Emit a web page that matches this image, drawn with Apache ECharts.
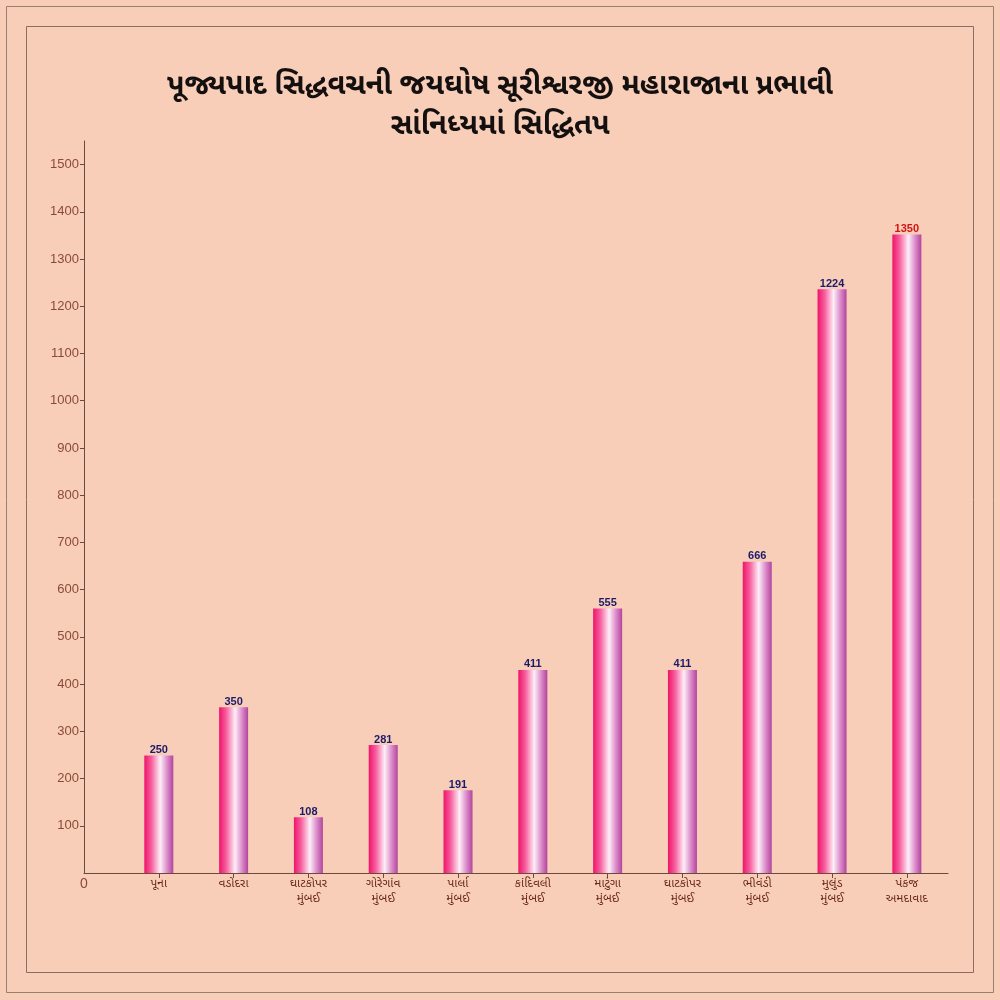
<!DOCTYPE html>
<html>
<head>
<meta charset="utf-8">
<script src="https://cdn.jsdelivr.net/npm/echarts@6/dist/echarts.min.js"></script>
<style>
html,body{margin:0;padding:0;background:#f8ceb9;}
#chart{width:1000px;height:1000px;}
</style>
</head>
<body>
<div id="chart"></div>
<script>
// ---- data ----
const titleLines = ['પૂજ્યપાદ સિદ્ધવચની જયઘોષ સૂરીશ્વરજી મહારાજાના પ્રભાવી', 'સાંનિધ્યમાં સિદ્ધિતપ'];
const categories = ['પૂના', 'વડોદરા', 'ઘાટકોપર\nમુંબઈ', 'ગોરેગાંવ\nમુંબઈ', 'પાર્લા\nમુંબઈ', 'કાંદિવલી\nમુંબઈ', 'માટુંગા\nમુંબઈ', 'ઘાટકોપર\nમુંબઈ', 'ભીવંડી\nમુંબઈ', 'મુલુંડ\nમુંબઈ', 'પંકજ\nઅમદાવાદ'];
const labelValues = [250, 350, 108, 281, 191, 411, 555, 411, 666, 1224, 1350];      // printed numbers
const barHeights  = [249, 351, 118, 271, 175, 430, 560, 430, 659, 1236, 1352];      // drawn bar heights
const yTicks = [100, 200, 300, 400, 500, 600, 700, 800, 900, 1000, 1100, 1200, 1300, 1400, 1500];
const zeroLabel = '0';

const gujFont = "'Noto Sans Gujarati', 'Noto Sans', 'DejaVu Sans', sans-serif";
const catIdx = categories.map((c, i) => i);
const maxLabel = Math.max(...labelValues);

const chart = echarts.init(document.getElementById('chart'), null, {renderer: 'canvas'});
chart.setOption({
  backgroundColor: '#f8ceb9',
  animation: false,
  title: {
    text: titleLines.join('\n'),
    left: 'center',
    top: 64,
    textStyle: {fontFamily: gujFont, fontSize: 29, fontWeight: 'bold', color: '#141010', lineHeight: 40}
  },
  graphic: [
    {type: 'rect', shape: {x: 6.5, y: 6.5, width: 987, height: 986}, style: {fill: 'none', stroke: '#9a7f70', lineWidth: 1}},
    {type: 'rect', shape: {x: 26.5, y: 26.5, width: 947, height: 946}, style: {fill: 'none', stroke: '#8a6e60', lineWidth: 1}}
  ],
  grid: {left: 84, right: 52, top: 141, bottom: 127},
  xAxis: {
    type: 'value',
    min: -1,
    max: 10.55,
    splitLine: {show: false},
    axisLine: {show: true, onZero: false, lineStyle: {color: '#6a4a3c', width: 1}},
    axisTick: {show: true, customValues: catIdx, length: 5, lineStyle: {color: '#6a4a3c'}},
    axisLabel: {
      customValues: [-1].concat(catIdx),
      margin: 4,
      formatter: function (v) {
        const i = Math.round(v);
        if (i === -1) return '{z|' + zeroLabel + '}';
        return categories[i];
      },
      color: '#6a2818',
      fontFamily: gujFont,
      fontSize: 12,
      lineHeight: 15,
      rich: {z: {fontFamily: 'Arial, Liberation Sans, sans-serif', fontSize: 14, color: '#8b4a36', lineHeight: 15}}
    }
  },
  yAxis: {
    type: 'value',
    min: 0,
    max: 1550,
    splitLine: {show: false},
    axisLine: {show: true, onZero: false, lineStyle: {color: '#6a4a3c', width: 1}},
    axisTick: {show: true, inside: false, customValues: yTicks, length: 4, lineStyle: {color: '#6a4a3c'}},
    axisLabel: {
      customValues: yTicks,
      margin: 5,
      color: '#8b4a36',
      fontFamily: 'Arial, Liberation Sans, sans-serif',
      fontSize: 13,
      formatter: v => String(v)
    }
  },
  series: [{
    type: 'bar',
    barWidth: 29,
    data: barHeights.map((h, i) => ({
      value: [i, h],
      label: {color: labelValues[i] === maxLabel ? '#d01616' : '#1c1a6a'}
    })),
    itemStyle: {
      color: new echarts.graphic.LinearGradient(0, 0, 1, 0, [
        {offset: 0, color: '#ee146a'},
        {offset: 0.25, color: '#f7609f'},
        {offset: 0.55, color: '#fdeef7'},
        {offset: 0.78, color: '#dd8fcc'},
        {offset: 1, color: '#b2449c'}
      ])
    },
    label: {
      show: true,
      position: 'top',
      distance: 0,
      fontFamily: 'Arial, Liberation Sans, sans-serif',
      fontWeight: 'bold',
      fontSize: 11,
      formatter: p => String(labelValues[p.dataIndex])
    }
  }]
});
</script>
</body>
</html>
